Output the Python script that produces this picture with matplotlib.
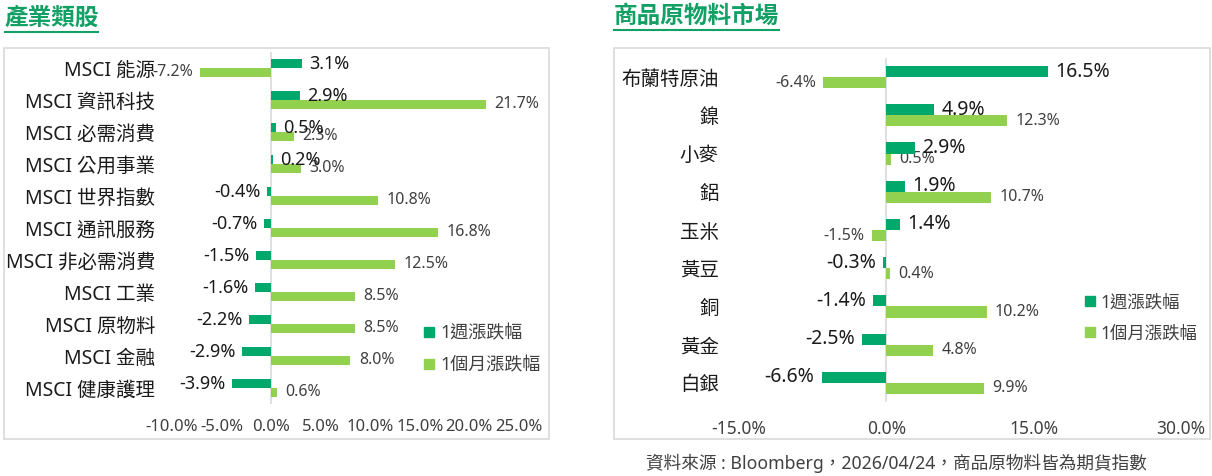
import matplotlib
matplotlib.use("Agg")
import matplotlib.pyplot as plt
from matplotlib.lines import Line2D
from matplotlib.patches import Rectangle

# fonts: Latin from Noto Sans, CJK falls back to Noto Sans CJK TC
plt.rcParams['font.family'] = ['Noto Sans', 'Noto Sans CJK TC', 'DejaVu Sans']

# ---- data ----
sector_names = ["MSCI 能源", "MSCI 資訊科技", "MSCI 必需消費", "MSCI 公用事業",
                "MSCI 世界指數", "MSCI 通訊服務", "MSCI 非必需消費", "MSCI 工業",
                "MSCI 原物料", "MSCI 金融", "MSCI 健康護理"]
sector_week = [3.1, 2.9, 0.5, 0.2, -0.4, -0.7, -1.5, -1.6, -2.2, -2.9, -3.9]
sector_month = [-7.2, 21.7, 2.3, 3.0, 10.8, 16.8, 12.5, 8.5, 8.5, 8.0, 0.6]
sector_ticks = [-10, -5, 0, 5, 10, 15, 20, 25]

comm_names = ["布蘭特原油", "鎳", "小麥", "鋁", "玉米", "黃豆", "銅", "黃金", "白銀"]
comm_week = [16.5, 4.9, 2.9, 1.9, 1.4, -0.3, -1.4, -2.5, -6.6]
comm_month = [-6.4, 12.3, 0.5, 10.7, -1.5, 0.4, 10.2, 4.8, 9.9]
comm_ticks = [-15, 0, 15, 30]

series_names = ["1週漲跌幅", "1個月漲跌幅"]

DARK = "#00A86B"
LIGHT = "#92D050"
TITLE_GREEN = "#12A065"
TXT = "#404040"

W, H = 1212, 476
fig = plt.figure(figsize=(W / 100, H / 100), dpi=100)


def fx(px):
    return px / W


def fy(py):
    return 1 - py / H


def draw_panel(rect, names, week, month, ticks, bar_h, off, cat_pad, tick_pad,
               tick_size, bold_size):
    ax = fig.add_axes(rect)
    y = list(range(len(names)))
    ax.barh([v - off for v in y], week, height=bar_h, color=DARK, zorder=3)
    ax.barh([v + off for v in y], month, height=bar_h, color=LIGHT, zorder=3)
    ax.axvline(0, color="#D9D9D9", lw=1.2, zorder=1)

    for i in y:
        w = week[i]
        ax.annotate(f"{w:.1f}%", (w, i - off), xytext=(5 if w >= 0 else -5, 0),
                    textcoords="offset points", ha="left" if w >= 0 else "right",
                    va="center", fontsize=bold_size, fontweight="bold",
                    color="#1a1a1a", zorder=4)
        m = month[i]
        ax.annotate(f"{m:.1f}%", (m, i + off), xytext=(6 if m >= 0 else -5, 0),
                    textcoords="offset points", ha="left" if m >= 0 else "right",
                    va="center", fontsize=11.5, color=TXT, zorder=2)

    ax.set_xlim(ticks[0], ticks[-1])
    ax.set_xticks(ticks)
    ax.set_xticklabels([f"{t:.1f}%" for t in ticks])
    ax.set_ylim(len(names) - 0.5, -0.5)
    ax.set_yticks(y)
    ax.set_yticklabels(names)
    for s in ax.spines.values():
        s.set_visible(False)
    ax.tick_params(axis="x", length=0, pad=tick_pad, labelsize=tick_size, labelcolor=TXT)
    ax.tick_params(axis="y", length=0, pad=cat_pad, labelsize=14, labelcolor="#1a1a1a")
    for lab in ax.get_yticklabels():
        lab.set_bbox(dict(facecolor="white", edgecolor="none", pad=0.5))
    return ax


# left panel: sectors
axL = draw_panel([fx(172), fy(404), fx(519) - fx(172), fy(52) - fy(404)],
                 sector_names, sector_week, sector_month, sector_ticks,
                 bar_h=0.27, off=0.135, cat_pad=12, tick_pad=11, tick_size=12,
                 bold_size=13)
# right panel: commodities
axR = draw_panel([fx(739), fy(402), fx(1181) - fx(739), fy(58) - fy(402)],
                 comm_names, comm_week, comm_month, comm_ticks,
                 bar_h=0.29, off=0.145, cat_pad=14.5, tick_pad=13, tick_size=12.5,
                 bold_size=14)

handles = [Line2D([], [], ls="none", marker="s", markersize=7.5, color=DARK),
           Line2D([], [], ls="none", marker="s", markersize=7.5, color=LIGHT)]
for ax, x0, yc, fs in [(axL, 424, 349.5, 13), (axR, 1085, 318, 12.5)]:
    leg = ax.legend(handles, series_names, loc="center left",
                    bbox_to_anchor=(fx(x0), fy(yc)), bbox_transform=fig.transFigure,
                    frameon=False, borderpad=0, borderaxespad=0, handlelength=0.6,
                    handletextpad=0.3, labelspacing=0.75, fontsize=fs)
    for t in leg.get_texts():
        t.set_color(TXT)

# panel boxes
for x0, x1 in [(4, 549), (614, 1210)]:
    fig.patches.append(Rectangle((fx(x0), fy(439)), fx(x1) - fx(x0), fy(48) - fy(439),
                                 transform=fig.transFigure, fill=False,
                                 edgecolor="#D9D9D9", lw=1.2))

# titles with underline
for x0, x1, ty, uy, title in [(5, 98, 19, 32, "產業類股"), (614, 779, 17, 30, "商品原物料市場")]:
    fig.text(fx(x0), fy(ty), title, ha="left", va="center", fontsize=17,
             fontweight="bold", color=TITLE_GREEN)
    fig.add_artist(Line2D([fx(x0), fx(x1)], [fy(uy), fy(uy)], color=TITLE_GREEN, lw=1.5))

fig.text(fx(646), fy(463), "資料來源 : Bloomberg，2026/04/24，商品原物料皆為期貨指數",
         ha="left", va="center", fontsize=12.7, color=TXT)

fig.savefig("out.png", dpi=100)
